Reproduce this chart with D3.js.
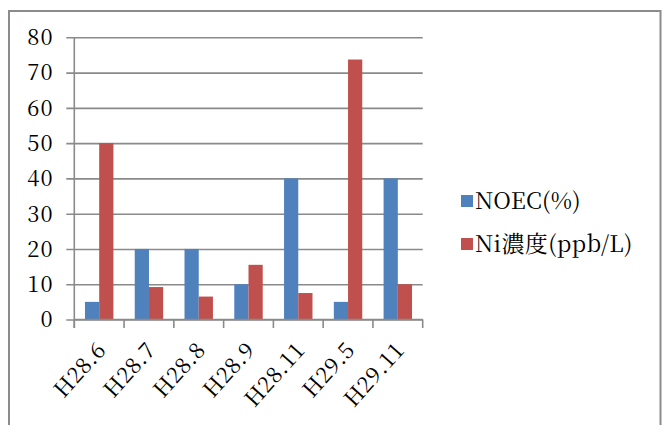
<!DOCTYPE html>
<html>
<head>
<meta charset="utf-8">
<script src="https://cdn.jsdelivr.net/npm/d3@7"></script>
<style>
  html, body { margin: 0; padding: 0; background: #fff; }
  svg { display: block; }
</style>
</head>
<body>
<svg id="chart" width="663" height="425"></svg>
<script>
// Sampling periods and measured values
const categories = ["H28.6", "H28.7", "H28.8", "H28.9", "H28.11", "H29.5", "H29.11"];
const noec = [5, 20, 20, 10, 40, 5, 40];            // NOEC (%)
const niConc = [50, 9.2, 6.5, 15.5, 7.5, 73.7, 10]; // Ni concentration (ppb/L)
const seriesNames = ["NOEC(%)", "Ni濃度(ppb/L)"];
const seriesColors = ["#4F81BD", "#C0504D"];
const yTicks = [0, 10, 20, 30, 40, 50, 60, 70, 80];

const series = [noec, niConc];
const svg = d3.select("#chart");
const fontFamily = '"Noto Serif CJK JP", "Liberation Serif", serif';
const fontSize = 22;

// Outer chart frame
svg.append("path")
  .attr("d", "M9,440 L9,11 L660.5,11 L660.5,440")
  .attr("fill", "none")
  .attr("stroke", "#8c8c8c")
  .attr("stroke-width", 2);

const plot = { left: 74.3, right: 422.7, top: 37.3, bottom: 319.5 };

const x0 = d3.scaleBand().domain(categories).range([plot.left, plot.right]).padding(0);
const x1 = d3.scaleBand().domain(d3.range(series.length))
  .range([0, x0.bandwidth()]).paddingInner(0).paddingOuter(0.75);
const y = d3.scaleLinear().domain([0, 80]).range([plot.bottom, plot.top]);

const gridColor = "#8a8a8a";

// Horizontal gridlines with left tick marks
const yAxis = d3.axisLeft(y).tickValues(yTicks).tickSize(-(plot.right - plot.left)).tickFormat("");
const gy = svg.append("g").attr("transform", `translate(${plot.left},0)`).call(yAxis);
gy.select(".domain").remove();
gy.selectAll(".tick line")
  .attr("x1", -8)
  .attr("stroke", gridColor).attr("stroke-width", 1.6);

// Y tick labels
svg.append("g").selectAll("text").data(yTicks).join("text")
  .attr("x", 53.5)
  .attr("y", d => y(d))
  .attr("dy", "0.36em")
  .attr("text-anchor", "end")
  .attr("font-family", fontFamily)
  .attr("font-size", fontSize)
  .attr("letter-spacing", 1)
  .attr("fill", "#000")
  .text(d => d);

// Bars
const groups = svg.append("g").selectAll("g").data(categories).join("g")
  .attr("transform", c => `translate(${x0(c)},0)`);
groups.selectAll("rect")
  .data((c, i) => series.map((s, k) => ({ k, v: s[i] })))
  .join("rect")
  .attr("x", d => x1(d.k))
  .attr("width", x1.bandwidth())
  .attr("y", d => y(d.v))
  .attr("height", d => y(0) - y(d.v))
  .attr("fill", d => seriesColors[d.k]);

// Y axis line
svg.append("line")
  .attr("x1", plot.left).attr("x2", plot.left)
  .attr("y1", plot.top).attr("y2", plot.bottom + 8.5)
  .attr("stroke", gridColor).attr("stroke-width", 1.6);

// X axis line and category separators
svg.append("line")
  .attr("x1", plot.left).attr("x2", plot.right)
  .attr("y1", plot.bottom).attr("y2", plot.bottom)
  .attr("stroke", gridColor).attr("stroke-width", 1.6);
const sepPositions = categories.map(c => x0(c)).concat([plot.right]);
svg.append("g").selectAll("line").data(sepPositions).join("line")
  .attr("x1", d => d).attr("x2", d => d)
  .attr("y1", plot.bottom).attr("y2", plot.bottom + 8.5)
  .attr("stroke", gridColor).attr("stroke-width", 1.6);

// Rotated category labels
svg.append("g").selectAll("text").data(categories).join("text")
  .attr("transform", c => `translate(${x0(c) + x0.bandwidth() / 2 + 2},${plot.bottom + 26}) rotate(-48)`)
  .attr("text-anchor", "end")
  .attr("dy", "0.36em")
  .attr("font-family", fontFamily)
  .attr("font-size", fontSize)
  .attr("letter-spacing", 0.5)
  .attr("fill", "#000")
  .text(c => c);

// Legend
const legend = svg.append("g").attr("transform", "translate(461,0)");
const legendY = [201, 244];
legend.selectAll("rect").data(seriesNames).join("rect")
  .attr("x", 0).attr("y", (d, i) => legendY[i] - 6)
  .attr("width", 12).attr("height", 12)
  .attr("fill", (d, i) => seriesColors[i]);
legend.selectAll("text").data(seriesNames).join("text")
  .attr("x", 14)
  .attr("y", (d, i) => legendY[i])
  .attr("dy", "0.36em")
  .attr("font-family", fontFamily)
  .attr("font-size", 23)
  .attr("letter-spacing", 0.3)
  .attr("fill", "#000")
  .text(d => d);
</script>
</body>
</html>
